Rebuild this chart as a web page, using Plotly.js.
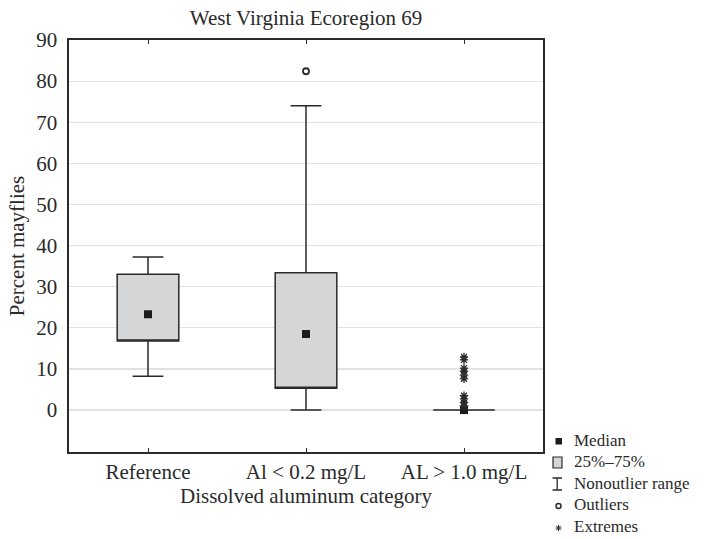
<!DOCTYPE html>
<html>
<head>
<meta charset="utf-8">
<script src="https://cdn.plot.ly/plotly-3.0.1.min.js"></script>
<style>html,body{margin:0;padding:0;background:#fff;}</style>
</head>
<body>
<div id="chart" style="width:728px;height:539px;"></div>
<script>
// ---- data ----
var categories = ["Reference", "Al < 0.2 mg/L", "AL > 1.0 mg/L"];
var q1 = [16.8, 5.3, 0];
var medians = [23.3, 18.5, 0];
var q3 = [33.0, 33.4, 0];
var whiskerLow = [8.2, 0, 0];
var whiskerHigh = [37.2, 74.0, 0];
var outlierCats = ["Al < 0.2 mg/L"];
var outlierVals = [82.4];
var extremeCats = ["AL > 1.0 mg/L", "AL > 1.0 mg/L", "AL > 1.0 mg/L", "AL > 1.0 mg/L", "AL > 1.0 mg/L",
                   "AL > 1.0 mg/L", "AL > 1.0 mg/L", "AL > 1.0 mg/L", "AL > 1.0 mg/L", "AL > 1.0 mg/L"];
var extremeVals = [12.9, 12.2, 10.2, 9.4, 8.5, 7.6, 3.5, 2.7, 1.8, 1.0];
var yTicks = [0, 10, 20, 30, 40, 50, 60, 70, 80, 90];
var legendLabels = ["Median", "25%–75%", "Nonoutlier range", "Outliers", "Extremes"];

var FONT = "'Liberation Serif', 'Times New Roman', serif";
var INK = "#2a2a2a";

var traces = [
  {
    type: "box",
    x: categories,
    q1: q1,
    // median is drawn as a square marker below; the box's own median line sits on the lower edge
    median: q1,
    q3: q3,
    lowerfence: whiskerLow,
    upperfence: whiskerHigh,
    width: 0.39,
    whiskerwidth: 0.5,
    fillcolor: "#d5d6d8",
    line: {color: INK, width: 1.5},
    boxpoints: false,
    hoverinfo: "skip",
    showlegend: false
  },
  {
    type: "scatter", mode: "markers",
    x: categories, y: medians,
    marker: {symbol: "square", size: 8, color: "#1c1c1c"},
    hoverinfo: "skip", showlegend: false
  },
  {
    type: "scatter", mode: "markers",
    x: outlierCats, y: outlierVals,
    marker: {symbol: "circle-open", size: 6, color: INK, line: {width: 1.8, color: INK}},
    hoverinfo: "skip", showlegend: false
  },
  {
    type: "scatter", mode: "markers",
    x: extremeCats, y: extremeVals,
    marker: {symbol: "asterisk-open", size: 7, color: INK, line: {width: 1.3, color: INK}},
    hoverinfo: "skip", showlegend: false
  }
];

// plot area in pixels: x 69..543, y 40..452
var L = 69, R = 543, T = 40, B = 452;
function px(x) { return (x - L) / (R - L); }
function py(y) { return (B - y) / (B - T); }

var shapes = [];
var annotations = [];
var legendY = [440, 461.5, 483, 504.5, 526];
legendLabels.forEach(function (lab, i) {
  annotations.push({
    xref: "paper", yref: "paper", x: px(573), y: py(legendY[i]),
    xanchor: "left", yanchor: "middle", showarrow: false, borderpad: 0,
    text: lab, font: {family: FONT, size: 17, color: INK}
  });
});
// median symbol
shapes.push({type: "rect", xref: "paper", yref: "paper",
  x0: px(555.5), x1: px(562), y0: py(438), y1: py(444.5),
  fillcolor: "#1c1c1c", line: {width: 0}});
// box symbol
shapes.push({type: "rect", xref: "paper", yref: "paper",
  x0: px(553), x1: px(562), y0: py(457), y1: py(468),
  fillcolor: "#d5d6d8", line: {color: INK, width: 1.2}});
// nonoutlier range symbol
shapes.push({type: "path", xref: "paper", yref: "paper",
  path: "M" + px(552.5) + "," + py(478) + " L" + px(562) + "," + py(478) +
        " M" + px(557.2) + "," + py(478) + " L" + px(557.2) + "," + py(490) +
        " M" + px(552.5) + "," + py(490) + " L" + px(562) + "," + py(490),
  line: {color: INK, width: 1.3}});
// outlier symbol
shapes.push({type: "circle", xref: "paper", yref: "paper",
  x0: px(556), x1: px(561), y0: py(503.5), y1: py(508.5),
  line: {color: INK, width: 1.5}});
// extremes symbol
var cx = 558.5, cy = 528, r = 3;
shapes.push({type: "path", xref: "paper", yref: "paper",
  path: "M" + px(cx - r) + "," + py(cy) + " L" + px(cx + r) + "," + py(cy) +
        " M" + px(cx) + "," + py(cy - r) + " L" + px(cx) + "," + py(cy + r) +
        " M" + px(cx - r * 0.75) + "," + py(cy - r * 0.75) + " L" + px(cx + r * 0.75) + "," + py(cy + r * 0.75) +
        " M" + px(cx - r * 0.75) + "," + py(cy + r * 0.75) + " L" + px(cx + r * 0.75) + "," + py(cy - r * 0.75),
  line: {color: INK, width: 1}});

var layout = {
  width: 728, height: 539,
  margin: {l: L, r: 728 - R, t: T, b: 539 - B, pad: 0},
  paper_bgcolor: "#ffffff", plot_bgcolor: "#ffffff",
  font: {family: FONT, size: 21, color: INK},
  title: {text: "West Virginia Ecoregion 69", x: 0.5 * (L + R) / 728, xanchor: "center",
          y: 1 - 18 / 539, yanchor: "middle", font: {family: FONT, size: 21, color: INK}},
  showlegend: false,
  xaxis: {
    type: "category",
    categoryorder: "array", categoryarray: categories,
    range: [-0.5, 2.5],
    showline: true, linecolor: INK, linewidth: 1.6,
    mirror: "ticks", ticks: "inside", ticklen: 4, tickwidth: 1, tickcolor: INK,
    showgrid: false, zeroline: false,
    tickfont: {family: FONT, size: 21, color: INK},
    title: {text: "Dissolved aluminum category", standoff: 4,
            font: {family: FONT, size: 21, color: INK}}
  },
  yaxis: {
    range: [-10.2, 90],
    tickvals: yTicks,
    showline: true, linecolor: INK, linewidth: 1.6, mirror: true,
    ticks: "", showgrid: true, gridcolor: "#e2e2e2", gridwidth: 1.2, zeroline: false,
    ticklabelstandoff: 6,
    tickfont: {family: FONT, size: 21, color: INK},
    title: {text: "Percent mayflies", standoff: 6,
            font: {family: FONT, size: 21, color: INK}}
  },
  shapes: shapes,
  annotations: annotations
};

Plotly.newPlot("chart", traces, layout, {displayModeBar: false, staticPlot: true});
</script>
</body>
</html>
